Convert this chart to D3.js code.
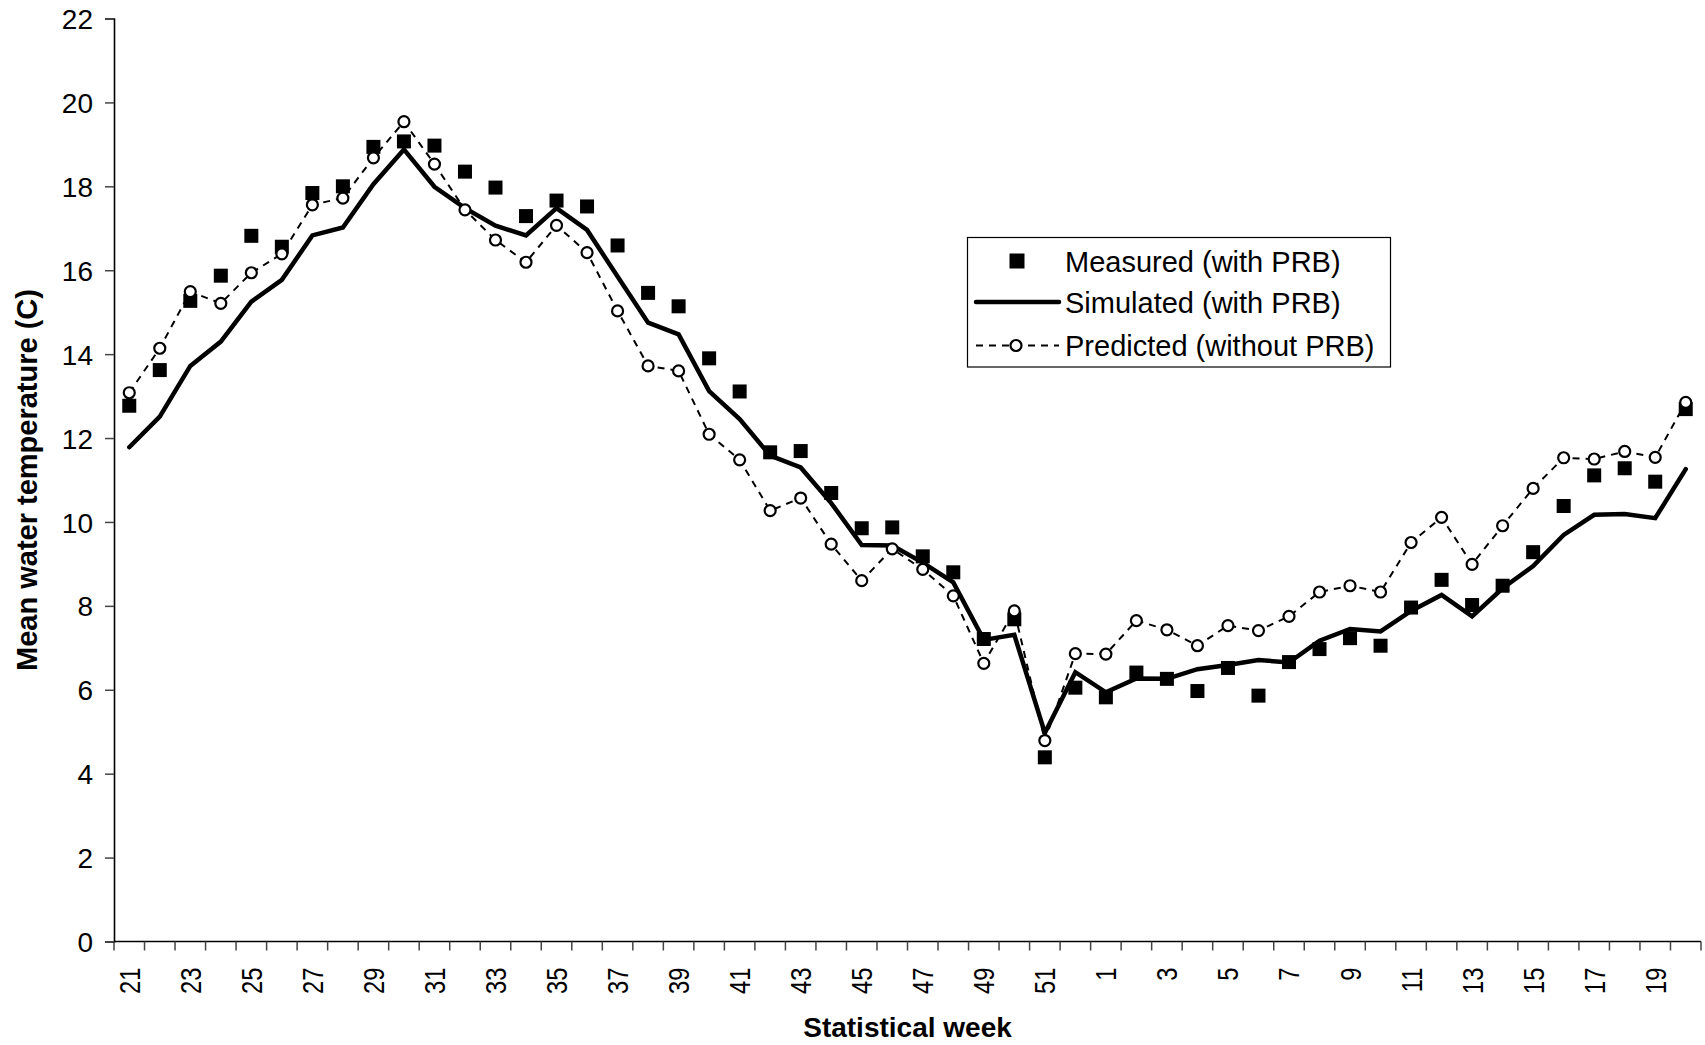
<!DOCTYPE html>
<html>
<head>
<meta charset="utf-8">
<script src="https://cdn.jsdelivr.net/npm/d3@7"></script>
<style>
  html, body { margin: 0; padding: 0; background: #fff; }
  svg { display: block; font-family: "Liberation Sans", Arial, sans-serif; }
</style>
</head>
<body>
<svg id="chart" width="1705" height="1045"></svg>
<script>
// ---- Data ----
const weeks = [21,22,23,24,25,26,27,28,29,30,31,32,33,34,35,36,37,38,39,40,41,42,43,44,45,46,47,48,49,50,51,52,
               1,2,3,4,5,6,7,8,9,10,11,12,13,14,15,16,17,18,19,20];

const measured = [12.77,13.62,15.27,15.87,16.82,16.56,17.84,18.00,18.94,19.07,18.97,18.35,17.97,17.29,17.66,17.52,
                  16.59,15.46,15.14,13.90,13.11,11.66,11.69,10.69,9.85,9.87,9.18,8.80,7.21,7.68,4.39,6.05,
                  5.82,6.41,6.26,5.97,6.52,5.86,6.66,6.97,7.23,7.05,7.96,8.62,8.02,8.48,9.28,10.38,11.11,11.28,10.96,12.69];

const simulated = [11.78,12.51,13.72,14.30,15.25,15.77,16.83,17.02,18.05,18.88,17.99,17.48,17.06,16.83,17.48,16.96,
                   15.85,14.75,14.47,13.12,12.45,11.58,11.30,10.45,9.45,9.44,9.03,8.56,7.19,7.31,4.97,6.42,
                   5.94,6.27,6.26,6.49,6.59,6.71,6.65,7.17,7.45,7.39,7.88,8.26,7.75,8.42,8.95,9.69,10.17,10.19,10.09,11.26];

const predicted = [13.08,14.14,15.49,15.21,15.94,16.39,17.56,17.72,18.68,19.54,18.53,17.44,16.72,16.19,17.07,16.42,
                   15.03,13.72,13.60,12.09,11.48,10.27,10.57,9.47,8.60,9.36,8.87,8.24,6.63,7.88,4.79,6.86,
                   6.85,7.65,7.43,7.05,7.53,7.41,7.75,8.33,8.48,8.33,9.51,10.11,8.99,9.91,10.80,11.53,11.50,11.68,11.54,12.85];

const yTicks = [0,2,4,6,8,10,12,14,16,18,20,22];
const seriesNames = ["Measured (with PRB)", "Simulated (with PRB)", "Predicted (without PRB)"];
const xTitle = "Statistical week";
const yTitle = "Mean water temperature (C)";

// ---- Layout ----
const svg = d3.select("#chart");
const pL = 114, pR = 1701, pT = 18.5, pB = 941.5;

const idx = d3.range(weeks.length);
const x = d3.scaleBand().domain(idx).range([pL, pR]).padding(0);
const y = d3.scaleLinear().domain([0, 22]).range([pB, pT]);
const cx = i => x(i) + x.bandwidth() / 2;

// ---- Axes ----
const yAxis = d3.axisLeft(y).tickValues(yTicks).tickSize(9).tickPadding(12).tickFormat(d3.format("d"));
const gy = svg.append("g").attr("transform", `translate(${pL},0)`).call(yAxis);
gy.select(".domain").attr("stroke", "#000").attr("stroke-width", 1.6);
gy.selectAll(".tick line").attr("stroke", "#444").attr("stroke-width", 1.5);
gy.selectAll(".tick text").attr("font-size", 28).attr("fill", "#000")
  .attr("font-family", "'Liberation Sans', Arial, sans-serif").attr("dy", "0.36em");

// x axis: line + ticks at band boundaries
const gx = svg.append("g");
gx.append("line").attr("x1", pL).attr("x2", pR).attr("y1", pB).attr("y2", pB)
  .attr("stroke", "#000").attr("stroke-width", 1.6);
const boundaries = d3.range(weeks.length + 1).map(i => i < weeks.length ? x(i) : pR);
gx.selectAll("line.tk").data(boundaries).enter().append("line").attr("class", "tk")
  .attr("x1", d => d).attr("x2", d => d).attr("y1", pB).attr("y2", pB + 9)
  .attr("stroke", "#444").attr("stroke-width", 1.5);
gx.selectAll("text.xl").data(idx.filter(i => i % 2 === 0)).enter().append("text").attr("class", "xl")
  .attr("transform", i => `translate(${cx(i) + 10.5},${pB + 26}) rotate(-90) scale(0.82,1)`)
  .attr("text-anchor", "end")
  .attr("font-size", 29).attr("fill", "#000")
  .text(i => weeks[i]);

// axis titles
svg.append("text").attr("x", (pL + pR) / 2).attr("y", 1037)
  .attr("text-anchor", "middle").attr("font-weight", "bold").attr("font-size", 28)
  .text(xTitle);
svg.append("text").attr("transform", `translate(37,${(pT + pB) / 2}) rotate(-90)`)
  .attr("text-anchor", "middle").attr("font-weight", "bold").attr("font-size", 29)
  .text(yTitle);

// ---- Series ----
const plot = svg.append("g");
const sq = 14;
plot.selectAll("rect.meas").data(measured).enter().append("rect").attr("class", "meas")
  .attr("x", (d, i) => cx(i) - sq / 2).attr("y", d => y(d) - sq / 2)
  .attr("width", sq).attr("height", sq).attr("fill", "#000");

const line = d3.line().x((d, i) => cx(i)).y(d => y(d));
plot.append("path").datum(simulated).attr("d", line)
  .attr("fill", "none").attr("stroke", "#000").attr("stroke-width", 4.5)
  .attr("stroke-linejoin", "miter").attr("stroke-linecap", "round");

plot.append("path").datum(predicted).attr("d", line)
  .attr("fill", "none").attr("stroke", "#000").attr("stroke-width", 2)
  .attr("stroke-dasharray", "7,6");
plot.selectAll("circle.pred").data(predicted).enter().append("circle").attr("class", "pred")
  .attr("cx", (d, i) => cx(i)).attr("cy", d => y(d)).attr("r", 5.5)
  .attr("fill", "#fff").attr("stroke", "#000").attr("stroke-width", 2.2);

// ---- Legend ----
const lg = svg.append("g");
lg.append("rect").attr("x", 967.5).attr("y", 237.5).attr("width", 423).attr("height", 129.5)
  .attr("fill", "#fff").attr("stroke", "#000").attr("stroke-width", 1.2);
const rowsY = [261, 302, 345.5];
lg.append("rect").attr("x", 1017 - 7.5).attr("y", rowsY[0] - 7.5).attr("width", 15).attr("height", 15).attr("fill", "#000");
lg.append("line").attr("x1", 976).attr("x2", 1059).attr("y1", rowsY[1]).attr("y2", rowsY[1])
  .attr("stroke", "#000").attr("stroke-width", 4.5).attr("stroke-linecap", "round");
lg.append("line").attr("x1", 976).attr("x2", 1059).attr("y1", rowsY[2]).attr("y2", rowsY[2])
  .attr("stroke", "#000").attr("stroke-width", 2).attr("stroke-dasharray", "7,6");
lg.append("circle").attr("cx", 1016).attr("cy", rowsY[2]).attr("r", 5.5)
  .attr("fill", "#fff").attr("stroke", "#000").attr("stroke-width", 2.2);
lg.selectAll("text.lt").data(seriesNames).enter().append("text").attr("class", "lt")
  .attr("x", 1065).attr("y", (d, i) => rowsY[i] + 10.5)
  .attr("font-size", 29).attr("fill", "#000").text(d => d);
</script>
</body>
</html>
